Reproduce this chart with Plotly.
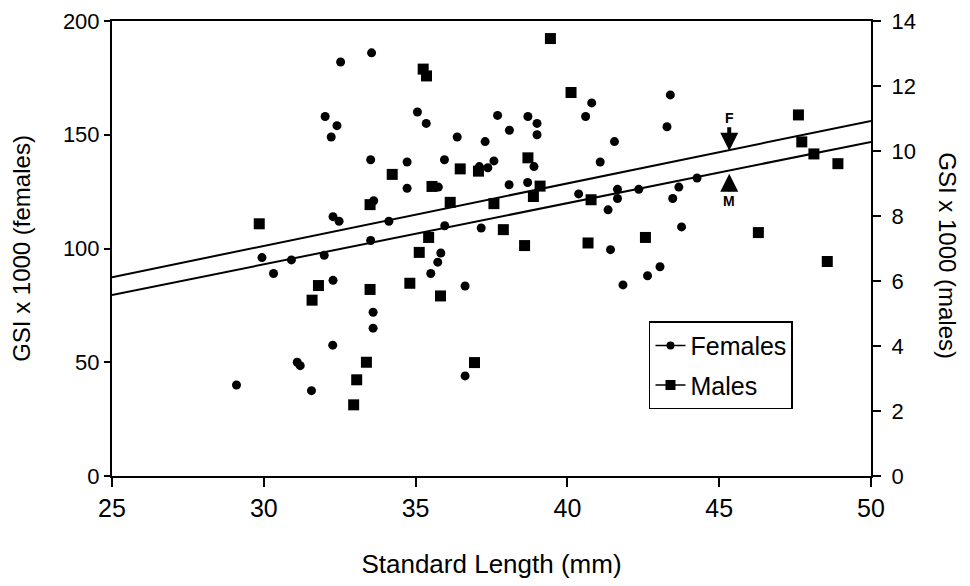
import plotly.graph_objects as go

# ---- data ----
female_len = [32.53, 33.55, 32.02, 32.41, 32.22, 35.06, 35.35, 36.37, 33.52, 34.72,
              35.95, 34.72, 35.75, 33.62, 32.28, 32.48, 34.12, 35.96, 33.52, 29.94,
              30.32, 30.91, 31.99, 32.28, 33.60, 33.60, 32.27, 31.10, 31.20, 29.10,
              31.57, 35.83, 35.73, 35.50, 36.63, 40.80, 40.60, 37.70, 38.70, 39.00,
              39.00, 38.09, 37.29, 41.55, 43.39, 43.28, 41.08, 37.58, 38.90, 37.10,
              37.38, 38.08, 38.69, 40.37, 41.34, 41.65, 41.65, 42.35, 43.47, 43.67,
              44.27, 37.16, 43.76, 41.42, 43.05, 42.64, 41.83, 36.63]
female_gsi = [182, 186, 158, 154, 149, 160, 155, 149, 139, 138,
              139, 126.5, 127, 121, 114, 112, 112, 110, 103.5, 96,
              89, 95, 97, 86, 72, 65, 57.5, 50, 48.5, 40,
              37.5, 98, 94, 89, 44, 164, 158, 158.5, 158, 155,
              150, 152, 147, 147, 167.5, 153.5, 138, 138.5, 136, 136,
              135.5, 128, 129, 124, 117, 126, 122, 126, 122, 127,
              131, 109, 109.5, 99.5, 92, 88, 84, 83.5]

male_len = [29.85, 34.23, 33.50, 31.80, 31.59, 33.50, 33.38, 33.06, 32.96, 36.14,
            35.43, 35.12, 34.81, 35.82, 36.94, 39.44, 35.25, 35.36, 40.12, 38.70,
            37.07, 36.47, 35.54, 39.10, 38.88, 37.58, 40.78, 37.89, 42.57, 40.68,
            38.59, 47.61, 47.72, 48.12, 48.91, 46.29, 48.56]
male_gsi = [7.76, 9.28, 8.35, 5.86, 5.41, 5.74, 3.50, 2.96, 2.19, 8.42,
            7.34, 6.88, 5.93, 5.54, 3.49, 13.46, 12.52, 12.31, 11.80, 9.79,
            9.38, 9.45, 8.91, 8.92, 8.60, 8.38, 8.50, 7.58, 7.34, 7.17,
            7.09, 11.11, 10.28, 9.91, 9.61, 7.49, 6.60]

fit_len = [25, 50]
female_fit = [87.4, 156.1]
male_fit = [5.57, 10.28]

x_ticks = [25, 30, 35, 40, 45, 50]
left_ticks = [0, 50, 100, 150, 200]
right_ticks = [0, 2, 4, 6, 8, 10, 12, 14]

FONT = "Liberation Sans, Arial, sans-serif"

fig = go.Figure()
fig.add_trace(go.Scatter(x=female_len, y=female_gsi, mode="markers",
                         marker=dict(symbol="circle", size=9, color="black"),
                         showlegend=False))
fig.add_trace(go.Scatter(x=male_len, y=male_gsi, yaxis="y2", mode="markers",
                         marker=dict(symbol="square", size=11, color="black"),
                         showlegend=False))
fig.add_trace(go.Scatter(x=fit_len, y=female_fit, mode="lines",
                         line=dict(color="black", width=2), showlegend=False))
fig.add_trace(go.Scatter(x=fit_len, y=male_fit, yaxis="y2", mode="lines",
                         line=dict(color="black", width=2), showlegend=False))
# legend entries
fig.add_trace(go.Scatter(x=[None], y=[None], mode="lines+markers", name="Females",
                         legendgroup="f",
                         marker=dict(symbol="circle", size=8, color="black"),
                         line=dict(color="black", width=1.5)))
fig.add_trace(go.Scatter(x=[None], y=[None], mode="lines+markers", name="Males",
                         legendgroup="m",
                         marker=dict(symbol="square", size=10, color="black"),
                         line=dict(color="black", width=1.5)))

axis_common = dict(showline=True, linecolor="black", linewidth=2, showgrid=False,
                   zeroline=False, ticks="outside", tickcolor="black", tickwidth=1.5,
                   automargin=False, ticklabeloverflow="allow")

fig.update_layout(
    # the page body adds an 8px offset; margins compensate for it
    width=970, height=586,
    margin=dict(l=104, r=107, t=13, b=118),
    paper_bgcolor="white", plot_bgcolor="white",
    font=dict(family=FONT, size=20, color="black"),
    xaxis=dict(range=[25, 50], tickvals=x_ticks, mirror=True, ticklen=9,
               tickfont=dict(family=FONT, size=25, color="black"),
               title=dict(text="Standard Length (mm)", standoff=34,
                          font=dict(family=FONT, size=26)),
               **axis_common),
    yaxis=dict(range=[0, 200], tickvals=left_ticks, ticklen=6,
               tickfont=dict(family=FONT, size=22, color="black"),
               title=dict(text="GSI x 1000 (females)", standoff=29,
                          font=dict(family=FONT, size=24)),
               **axis_common),
    yaxis2=dict(range=[0, 14], tickvals=right_ticks, overlaying="y", side="right",
                ticklen=8, ticklabelstandoff=6,
                tickfont=dict(family=FONT, size=22, color="black"),
                **axis_common),
    legend=dict(x=0.7075, y=0.34, xanchor="left", yanchor="top",
                bordercolor="black", borderwidth=1.5, bgcolor="white",
                font=dict(family=FONT, size=25), tracegroupgap=4),
    annotations=[
        dict(x=1.1015, y=0.485, xref="paper", yref="paper", text="GSI x 1000 (males)",
             xanchor="center", yanchor="middle",
             textangle=90, showarrow=False, font=dict(family=FONT, size=24)),
        dict(x=45.33, y=143, xref="x", yref="y", text="<b>F</b>", showarrow=True,
             arrowhead=2, arrowsize=0.9, arrowwidth=4, arrowcolor="black",
             ax=0, ay=-33, font=dict(family=FONT, size=14)),
        dict(x=45.33, y=9.3, xref="x", yref="y2", text="<b>M</b>", showarrow=True,
             arrowhead=2, arrowsize=0.9, arrowwidth=4, arrowcolor="black",
             ax=0, ay=27, font=dict(family=FONT, size=14)),
    ],
)

fig.write_html("out.html")
